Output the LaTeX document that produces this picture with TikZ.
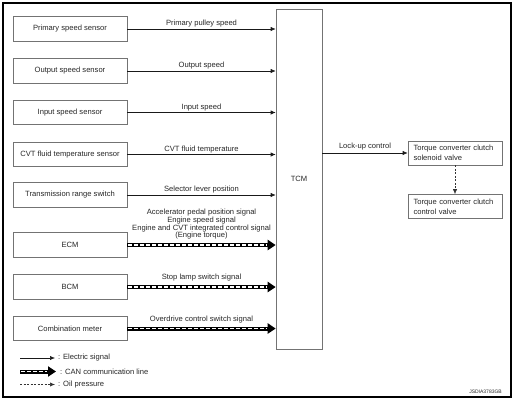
\documentclass[tikz,border=0pt]{standalone}
\usepackage{fontspec}
\setmainfont{Liberation Sans}
\usetikzlibrary{arrows.meta}
\begin{document}
\begin{tikzpicture}[x=1pt,y=-1pt,
  every node/.style={font=\fontsize{7.6}{7.8}\selectfont, text=black!85},
  src/.style={draw=black!55, line width=0.6pt, minimum width=114pt, minimum height=24.5pt, inner sep=0pt},
  rbox/.style={draw=black!55, line width=0.6pt, text width=83pt, align=left, inner xsep=5.5pt, minimum height=24pt, font=\fontsize{7.6}{9.8}\selectfont},
  elec/.style={draw=black!90, line width=0.6pt, -{Latex[length=5pt,width=4.2pt]}},
  oil/.style={draw=black!80, line width=0.6pt, dash pattern=on 2pt off 1.5pt, -{Latex[length=5pt,width=4.2pt]}},
  can/.style={draw=black, line width=4pt, -{Triangle[length=8pt,width=10pt]},
    postaction={draw=white, line width=1.4pt, dash pattern=on 4pt off 2pt, shorten >=9pt, shorten <=1pt, -}},
  lbl/.style={anchor=south, inner sep=1pt}]
\useasboundingbox (0,0) rectangle (515,400);
\draw[line width=1.2pt] (3,3) rectangle (511,397);

\node[src] (ps) at (70,29) {Primary speed sensor};
\node[src] (os) at (70,71) {Output speed sensor};
\node[src] (is) at (70,112.5) {Input speed sensor};
\node[src] (ft) at (70,154.5) {CVT fluid temperature sensor};
\node[src] (tr) at (70,195) {Transmission range switch};
\node[src] (ecm) at (70,245) {ECM};
\node[src] (bcm) at (70,287) {BCM};
\node[src] (cm) at (70,328.5) {Combination meter};

\node[draw=black!55, line width=0.6pt, minimum width=46pt, minimum height=340pt, inner sep=0pt] (tcm) at (299,179) {TCM};

\draw[elec] (ps.east) -- (ps.east -| tcm.west) node[lbl, midway, above=0.5pt] {Primary pulley speed};
\draw[elec] (os.east) -- (os.east -| tcm.west) node[lbl, midway, above=0.5pt] {Output speed};
\draw[elec] (is.east) -- (is.east -| tcm.west) node[lbl, midway, above=0.5pt] {Input speed};
\draw[elec] (ft.east) -- (ft.east -| tcm.west) node[lbl, midway, above=0.5pt] {CVT fluid temperature};
\draw[elec] (tr.east) -- (tr.east -| tcm.west) node[lbl, midway, above=0.5pt] {Selector lever position};

\draw[can] (ecm.east) -- (ecm.east -| tcm.west) node[lbl, midway, above=2.5pt, align=center] {Accelerator pedal position signal\\Engine speed signal\\Engine and CVT integrated control signal\\(Engine torque)};
\draw[can] (bcm.east) -- (bcm.east -| tcm.west) node[lbl, midway, above=2.5pt] {Stop lamp switch signal};
\draw[can] (cm.east) -- (cm.east -| tcm.west) node[lbl, midway, above=2.5pt] {Overdrive control switch signal};

\node[rbox] (sv) at (455,153) {Torque converter clutch\\solenoid valve};
\node[rbox] (cv) at (455,206.5) {Torque converter clutch\\control valve};
\draw[elec] (tcm.east |- sv.west) -- (sv.west) node[lbl, pos=0.5, above=1.5pt] {Lock-up control};
\draw[oil] (sv.south) -- (cv.north);

\coordinate (e1) at (20,358); \coordinate (e2) at (55,358);
\coordinate (c1) at (20,371.5); \coordinate (c2) at (56,371.5);
\coordinate (o1) at (20,384.5); \coordinate (o2) at (55,384.5);
\draw[elec] (e1) -- (e2);
\draw[can] (c1) -- (c2);
\draw[oil] (o1) -- (o2);
\node[anchor=west, inner sep=1pt] (te) at (57,358) {: Electric signal};
\node[anchor=west, inner sep=1pt] (tc) at (59,371.5) {: CAN communication line};
\node[anchor=west, inner sep=1pt] (to) at (57,384.5) {: Oil pressure};

\node[anchor=east, inner sep=0pt, font=\fontsize{5}{5}\selectfont] (id) at (502,392) {JSDIA3783GB};
\end{tikzpicture}
\end{document}
